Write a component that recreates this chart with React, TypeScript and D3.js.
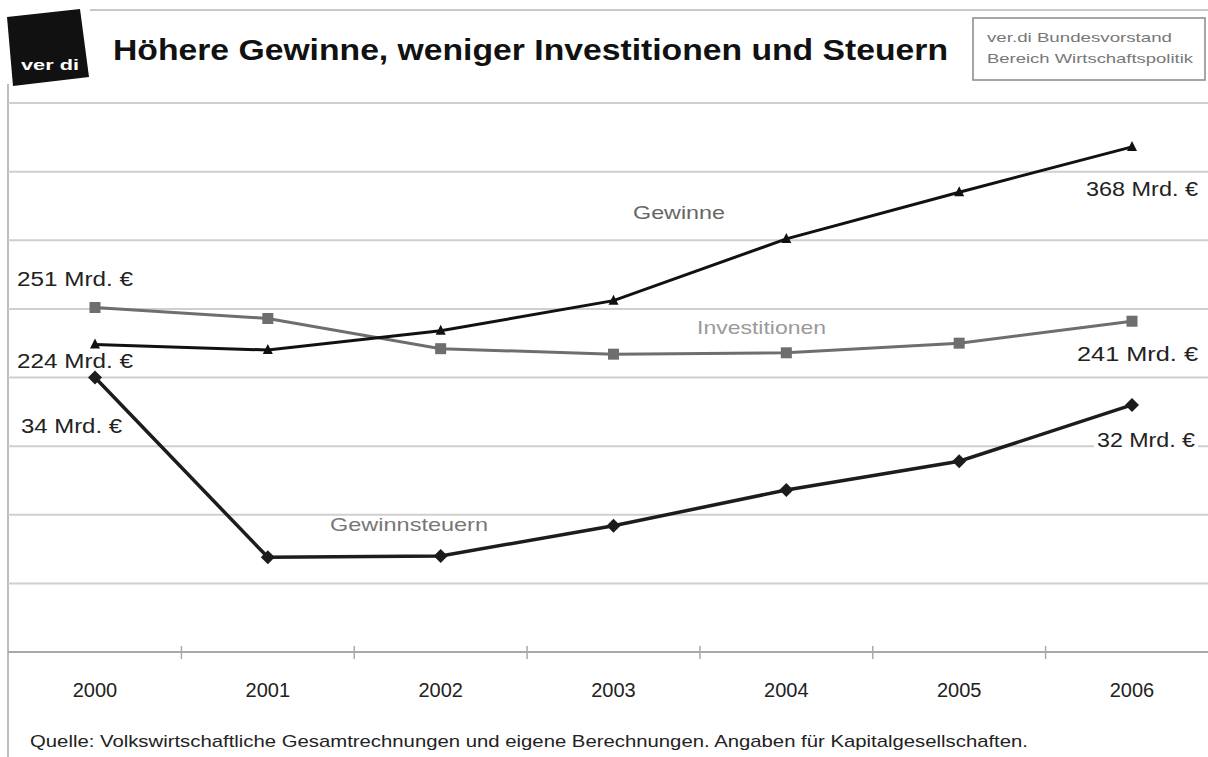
import React from "react";
import * as d3 from "d3";

const years = ["2000", "2001", "2002", "2003", "2004", "2005", "2006"];
const gewinne = [224, 220, 234, 256, 301, 335, 368];
const investitionen = [251, 243, 221, 217, 218, 225, 241];
const gewinnsteuern = [34, 20.9, 21.0, 23.2, 25.8, 27.9, 32];
const mainTicks = [0, 50, 100, 150, 200, 250, 300, 350, 400];
const taxDomain = [14, 54];

const W = 1208;
const H = 757;
const plotLeft = 8;
const plotRight = 1208;
const plotTop = 103;
const plotBottom = 652;

export default function App() {
  const x = d3.scalePoint<string>().domain(years).range([95, 1132]);
  const step = x.step();
  const y = d3.scaleLinear().domain([0, 400]).range([plotBottom, plotTop]);
  const yTax = d3.scaleLinear().domain(taxDomain).range([plotBottom, plotTop]);

  const lineMain = d3
    .line<number>()
    .x((_, i) => x(years[i]) as number)
    .y((d) => y(d));
  const lineTax = d3
    .line<number>()
    .x((_, i) => x(years[i]) as number)
    .y((d) => yTax(d));

  const font = "Arial, 'Liberation Sans', Helvetica, sans-serif";
  const midTicks = years.slice(0, -1).map((yr) => (x(yr) as number) + step / 2);

  const lastI = years.length - 1;
  const gx0 = x(years[0]) as number;
  const gxN = x(years[lastI]) as number;

  return (
    <svg
      width={W}
      height={H}
      style={{ position: "absolute", left: 0, top: 0, background: "#fff" }}
      fontFamily={font}
    >
      <rect x={0} y={0} width={W} height={H} fill="#fff" />
      {/* frame lines */}
      <line x1={90} x2={W} y1={10} y2={10} stroke="#c8c8c8" strokeWidth={2} />
      <line x1={8} x2={8} y1={84} y2={H} stroke="#bdbdbd" strokeWidth={2} />

      {/* logo */}
      <path d="M7,17 L80,9 L89,77 L13,86 Z" fill="#111" />
      <text x={21} y={70} fill="#fff" fontWeight="bold" fontSize={15} textLength={58} lengthAdjust="spacingAndGlyphs">
        ver di
      </text>

      {/* title */}
      <text x={113} y={60} fill="#111" fontWeight="bold" fontSize={29} textLength={835} lengthAdjust="spacingAndGlyphs">
        Höhere Gewinne, weniger Investitionen und Steuern
      </text>

      {/* info box */}
      <rect x={973} y={18} width={232} height={62} fill="#fff" stroke="#888" strokeWidth={1.5} />
      <text x={987} y={42} fill="#777" fontSize={13} textLength={185} lengthAdjust="spacingAndGlyphs">
        ver.di Bundesvorstand
      </text>
      <text x={987} y={63} fill="#777" fontSize={13} textLength={206} lengthAdjust="spacingAndGlyphs">
        Bereich Wirtschaftspolitik
      </text>

      {/* gridlines */}
      {mainTicks.slice(1).map((t) => (
        <line key={t} x1={plotLeft} x2={plotRight} y1={y(t)} y2={y(t)} stroke="#cfcfcf" strokeWidth={2} />
      ))}
      {/* axis */}
      <line x1={plotLeft} x2={plotRight} y1={y(0)} y2={y(0)} stroke="#a8a8a8" strokeWidth={2} />
      {midTicks.map((mx, i) => (
        <line key={i} x1={mx} x2={mx} y1={y(0) - 6} y2={y(0) + 7} stroke="#aaa" strokeWidth={1.5} />
      ))}
      {years.map((yr) => (
        <text key={yr} x={x(yr)} y={697} textAnchor="middle" fill="#222" fontSize={20}>
          {yr}
        </text>
      ))}

      {/* value labels with white backgrounds */}
      {[
        { t: "251 Mrd. €", x0: 17, b: 286, w: 116 },
        { t: "224 Mrd. €", x0: 17, b: 368, w: 116 },
        { t: "34 Mrd. €", x0: 21, b: 433, w: 101 },
        { t: "368 Mrd. €", x0: 1086, b: 196, w: 112 },
        { t: "241  Mrd. €", x0: 1077, b: 361, w: 121 },
        { t: "32 Mrd. €", x0: 1097, b: 447, w: 98 },
      ].map((l) => (
        <g key={l.t}>
          <rect x={l.x0 - 3} y={l.b - 19} width={l.w + 6} height={25} fill="#fff" />
          <text x={l.x0} y={l.b} fill="#222" fontSize={20} textLength={l.w} lengthAdjust="spacingAndGlyphs">
            {l.t}
          </text>
        </g>
      ))}

      {/* series labels */}
      <text x={633} y={219} fill="#666" fontSize={19} textLength={92} lengthAdjust="spacingAndGlyphs">
        Gewinne
      </text>
      <text x={697} y={334} fill="#9a9a9a" fontSize={19} textLength={129} lengthAdjust="spacingAndGlyphs">
        Investitionen
      </text>
      <text x={330} y={531} fill="#777" fontSize={19} textLength={158} lengthAdjust="spacingAndGlyphs">
        Gewinnsteuern
      </text>

      {/* Investitionen */}
      <path d={lineMain(investitionen) as string} fill="none" stroke="#6e6e6e" strokeWidth={3} />
      {investitionen.map((v, i) => (
        <rect key={i} x={(x(years[i]) as number) - 5.5} y={y(v) - 5.5} width={11} height={11} fill="#6e6e6e" />
      ))}

      {/* Gewinne */}
      <path d={lineMain(gewinne) as string} fill="none" stroke="#111" strokeWidth={3} />
      {gewinne.map((v, i) => {
        const cx = x(years[i]) as number;
        const cy = y(v);
        return <path key={i} d={`M${cx},${cy - 6} L${cx + 5},${cy + 4} L${cx - 5},${cy + 4} Z`} fill="#111" />;
      })}

      {/* Gewinnsteuern */}
      <path d={lineTax(gewinnsteuern) as string} fill="none" stroke="#1c1c1c" strokeWidth={3.5} />
      {gewinnsteuern.map((v, i) => {
        const cx = x(years[i]) as number;
        const cy = yTax(v);
        return <path key={i} d={`M${cx},${cy - 7} L${cx + 7},${cy} L${cx},${cy + 7} L${cx - 7},${cy} Z`} fill="#1c1c1c" />;
      })}

      {/* source */}
      <text x={30} y={747} fill="#222" fontSize={17} textLength={998} lengthAdjust="spacingAndGlyphs">
        Quelle: Volkswirtschaftliche Gesamtrechnungen und eigene Berechnungen. Angaben für Kapitalgesellschaften.
      </text>
    </svg>
  );
}
